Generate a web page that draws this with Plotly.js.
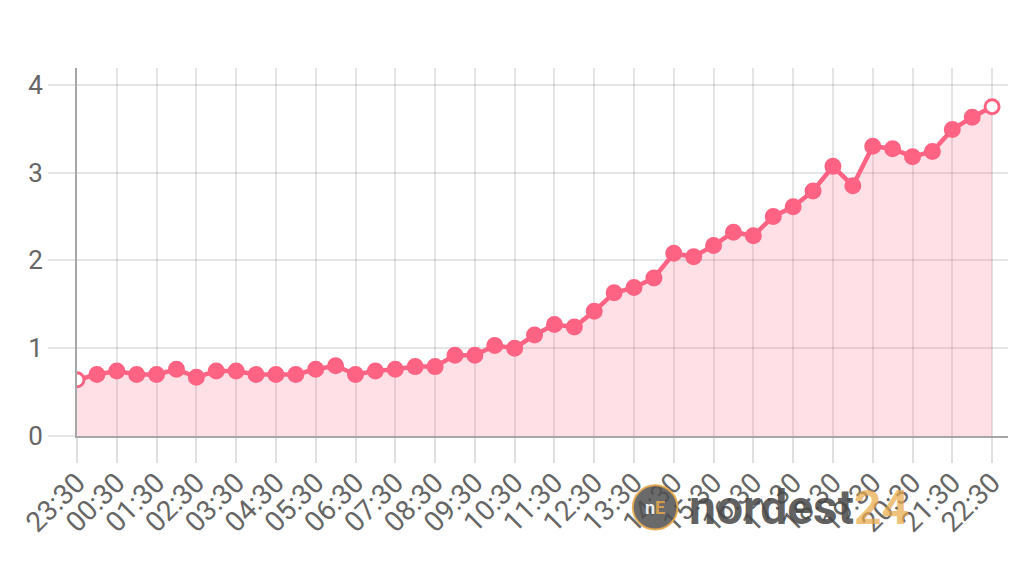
<!DOCTYPE html>
<html>
<head>
<meta charset="utf-8">
<script src="https://cdn.plot.ly/plotly-3.0.1.min.js"></script>
<style>
html,body{margin:0;padding:0;background:#fff;}
#chart{width:1016px;height:564px;}
</style>
</head>
<body>
<div id="chart"></div>
<script>
const times = ["23:30","00:00","00:30","01:00","01:30","02:00","02:30","03:00","03:30","04:00","04:30","05:00","05:30","06:00","06:30","07:00","07:30","08:00","08:30","09:00","09:30","10:00","10:30","11:00","11:30","12:00","12:30","13:00","13:30","14:00","14:30","15:00","15:30","16:00","16:30","17:00","17:30","18:00","18:30","19:00","19:30","20:00","20:30","21:00","21:30","22:00","22:30"];
const values = [0.64,0.70,0.74,0.70,0.70,0.76,0.67,0.74,0.74,0.70,0.70,0.70,0.76,0.80,0.70,0.74,0.76,0.79,0.79,0.92,0.92,1.03,1.00,1.15,1.27,1.24,1.42,1.63,1.69,1.80,2.08,2.04,2.17,2.32,2.28,2.50,2.61,2.79,3.07,2.85,3.30,3.27,3.18,3.24,3.49,3.63,3.75];
const tickLabels = ["23:30","00:30","01:30","02:30","03:30","04:30","05:30","06:30","07:30","08:30","09:30","10:30","11:30","12:30","13:30","14:30","15:30","16:30","17:30","18:30","19:30","20:30","21:30","22:30"];
const yTicks = [0,1,2,3,4];

const pink = "#ff6384";
const markerFill = values.map((v,i)=> (i===0 || i===values.length-1) ? "#ffffff" : pink);

const trace = {
  x: times,
  y: values,
  type: "scatter",
  mode: "lines+markers",
  fill: "tozeroy",
  fillcolor: "rgba(255,99,132,0.2)",
  line: {color: pink, width: 4.5},
  marker: {size: 14, color: markerFill, line: {color: pink, width: 3}},
  hoverinfo: "skip"
};

const layout = {
  width: 1016, height: 564,
  margin: {l: 77, r: 8, t: 68, b: 127.5},
  paper_bgcolor: "#ffffff",
  plot_bgcolor: "#ffffff",
  showlegend: false,
  font: {family: "Roboto, sans-serif", color: "#666666"},
  xaxis: {
    type: "category",
    range: [0, 46.8],
    tickmode: "array",
    tickvals: tickLabels,
    ticktext: tickLabels,
    tickangle: -45,
    ticks: "outside",
    ticklen: 25,
    ticklabelstandoff: -8,
    tickcolor: "rgba(0,0,0,0.12)",
    tickwidth: 2,
    showgrid: true,
    gridcolor: "rgba(0,0,0,0.1)",
    gridwidth: 2,
    showline: true,
    linecolor: "rgba(0,0,0,0.35)",
    linewidth: 2,
    zeroline: false,
    tickfont: {size: 28, color: "#666666", family: "Roboto, sans-serif"},
    fixedrange: true
  },
  yaxis: {
    range: [0, 4.19],
    tickmode: "array",
    tickvals: yTicks,
    ticktext: yTicks.map(String),
    ticks: "outside",
    ticklen: 27,
    tickcolor: "rgba(0,0,0,0.1)",
    tickwidth: 2,
    showgrid: true,
    gridcolor: "rgba(0,0,0,0.1)",
    gridwidth: 2,
    showline: true,
    linecolor: "rgba(0,0,0,0.35)",
    linewidth: 2,
    zeroline: false,
    tickfont: {size: 26, color: "#666666", family: "Roboto, sans-serif"},
    fixedrange: true
  },
  shapes: [
    {type: "circle", xref: "paper", yref: "paper", x0: 0.597, x1: 0.645, y0: -0.254, y1: -0.134,
     fillcolor: "rgba(80,80,80,0.85)", line: {color: "rgba(232,169,74,0.9)", width: 2}, layer: "above"}
  ],
  annotations: [
    {xref: "paper", yref: "paper", x: 0.621, y: -0.194, text: "<b>n<span style='color:rgba(232,169,74,0.95)'>E</span></b>", showarrow: false,
     font: {size: 18, color: "rgba(255,255,255,0.9)", family: "Roboto, sans-serif"}, xanchor: "center", yanchor: "middle"},
    {xref: "paper", yref: "paper", x: 0.655, y: -0.194, showarrow: false, xanchor: "left", yanchor: "middle",
     text: "<b>nordest</b><b><span style='color:rgba(232,169,74,0.85)'>24</span></b>",
     font: {size: 48, color: "rgba(70,70,70,0.85)", family: "Roboto, sans-serif"}}
  ]
};

Plotly.newPlot("chart", [trace], layout, {displayModeBar: false, staticPlot: true});
</script>
</body>
</html>
